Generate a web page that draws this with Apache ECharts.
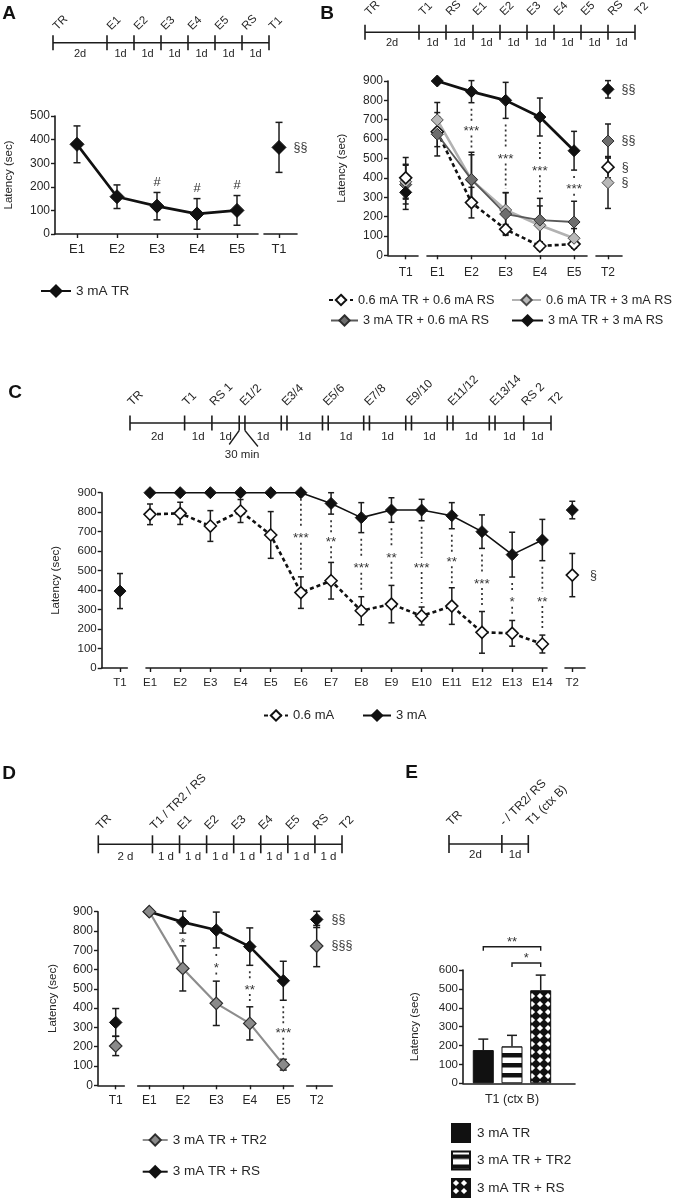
<!DOCTYPE html>
<html>
<head>
<meta charset="utf-8">
<script src="https://cdn.jsdelivr.net/npm/echarts@6.0.0/dist/echarts.min.js"></script>
<style>
html,body{margin:0;padding:0;background:#ffffff;}
#chart{width:674px;height:1200px;}
</style>
</head>
<body>
<div id="chart"></div>
<script>
// ======================= DATA =======================
// ---- Panel A ----
const aCats = ['E1','E2','E3','E4','E5'];
const aName = '3 mA TR';
const aMean = [380, 158, 118, 85, 100];
const aSem  = [78, 50, 58, 65, 63];
const aMarks = ['', '', '#', '#', '#'];
const aTCats = ['T1'];
const aT1Mean = [367];
const aT1Sem = [106];
const aT1Marks = ['§§'];
const aTlLabels = ['TR','E1','E2','E3','E4','E5','RS','T1'];
const aTlDays = [0,2,3,4,5,6,7,8];
const aTlDur = ['2d','1d','1d','1d','1d','1d','1d'];

// ---- Panel B ----
const bCats = ['E1','E2','E3','E4','E5'];
const bT1Cats = ['T1'];
const bT2Cats = ['T2'];
const bNames = ['0.6 mA TR + 0.6 mA RS','0.6 mA TR + 3 mA RS','3 mA TR + 0.6 mA RS','3 mA TR + 3 mA RS'];
const bMean = [
  [638, 272, 134, 48, 58],
  [699, 389, 234, 155, 88],
  [625, 392, 213, 182, 172],
  [900, 845, 800, 714, 540]
];
const bSem = [
  [77, 79, 25, 20, 20],
  [90, 130, 90, 100, 50],
  [112, 140, 110, 112, 107],
  [0, 57, 93, 98, 100]
];
const bT1Mean = [400, 380, 365, 325];
const bT1Sem  = [105, 90, 100, 88];
const bT2Mean = [455, 375, 590, 857];
const bT2Sem  = [55, 133, 88, 45];
const bT2Marks = ['§','§','§§','§§'];
const bMarks = ['', '***', '***', '***', '***'];
const bTlLabels = ['TR','T1','RS','E1','E2','E3','E4','E5','RS','T2'];
const bTlDays = [0,2,3,4,5,6,7,8,9,10];
const bTlDur = ['2d','1d','1d','1d','1d','1d','1d','1d','1d'];

// ---- Panel C ----
const cCats = ['E1','E2','E3','E4','E5','E6','E7','E8','E9','E10','E11','E12','E13','E14'];
const cT1Cats = ['T1'];
const cT2Cats = ['T2'];
const cNames = ['0.6 mA','3 mA'];
const cLow  = [789, 794, 729, 806, 683, 387, 448, 294, 328, 267, 318, 183, 178, 123];
const cLowSem = [53, 57, 79, 59, 120, 81, 94, 72, 96, 46, 94, 107, 66, 46];
const cHigh = [900, 900, 900, 900, 900, 900, 845, 772, 811, 811, 782, 700, 582, 657];
const cHighSem = [0, 0, 0, 0, 0, 0, 55, 77, 63, 55, 67, 86, 115, 106];
const cMarks = ['', '', '', '', '', '***', '**', '***', '**', '***', '**', '***', '*', '**'];
const cT1High = [395];
const cT1HighSem = [90];
const cT2Low = [477];
const cT2LowSem = [111];
const cT2LowMarks = ['§'];
const cT2High = [811];
const cT2HighSem = [45];
const cTlLabels = ['TR','T1','RS 1','E1/2','E3/4','E5/6','E7/8','E9/10','E11/12','E13/14','RS 2','T2'];
const cTlDays = [0, 2, 3, 4, 5.54, 7.05, 8.56, 10.1, 11.62, 13.16, 14.42, 15.42];
const cTlPaired = [0, 0, 0, 1, 1, 1, 1, 1, 1, 1, 0, 0];
const cTlNotes = ['', '', '', '30 min', '', '', '', '', '', '', '', ''];
const cTlDur = ['2d','1d','1d','1d','1d','1d','1d','1d','1d','1d','1d'];

// ---- Panel D ----
const dCats = ['E1','E2','E3','E4','E5'];
const dT1Cats = ['T1'];
const dT2Cats = ['T2'];
const dNames = ['3 mA TR + TR2','3 mA TR + RS'];
const dTR2 = [900, 606, 425, 321, 107];
const dTR2Sem = [0, 117, 115, 86, 28];
const dRS = [900, 846, 805, 719, 542];
const dRSSem = [0, 57, 93, 97, 101];
const dMarks = ['', '*', '*', '**', '***'];
const dT1Mean = [204, 326];
const dT1Sem = [50, 72];
const dT2Mean = [722, 860];
const dT2Sem = [107, 42];
const dT2Marks = ['§§§', '§§'];
const dTlLabels = ['TR','T1 / TR2 / RS','E1','E2','E3','E4','E5','RS','T2'];
const dTlDays = [0,2,3,4,5,6,7,8,9];
const dTlDur = ['2 d','1 d','1 d','1 d','1 d','1 d','1 d','1 d'];

// ---- Panel E ----
const eGroup = ['T1 (ctx B)'];
const eNames = ['3 mA TR','3 mA TR + TR2','3 mA TR + RS'];
const eMean = [176, 196, 493];
const eSem = [58, 58, 80];
const eBracketFrom = [0, 1];
const eBracketTo = [2, 2];
const eBracketLevel = [723, 637];
const eBracketMarks = ['**', '*'];
const eTlLabels = ['TR','- / TR2/ RS','T1 (ctx B)'];
const eTlDays = [0, 2, 3];
const eTlDur = ['2d','1d'];

// ======================= BUILD =======================
const FONT = '"Liberation Sans", Arial, Helvetica, sans-serif';
const INK = '#1c1c1c';
const TXT = '#262626';
const PAIR_GAP = 0.21;
const grid = [], xAxis = [], yAxis = [], series = [], legend = [], graphic = [];
const idx = (arr) => arr.map((_, i) => i + 1);

function addGrid(left, top, width, height) {
  grid.push({left, top, width, height, containLabel: false, outerBoundsMode: 'none'});
  return grid.length - 1;
}
function addCatX(gi, cats, min, max, fs, margin) {
  const vals = idx(cats);
  xAxis.push({
    type: 'value', gridIndex: gi, min, max,
    axisLine: {show: true, onZero: false, lineStyle: {color: INK, width: 1.6}},
    axisTick: {show: true, customValues: vals, length: 4, lineStyle: {color: INK, width: 1.4}},
    axisLabel: {show: true, customValues: vals, formatter: (v) => cats[Math.round(v) - 1] || '',
      fontSize: fs, color: TXT, fontFamily: FONT, margin},
    splitLine: {show: false}
  });
  return xAxis.length - 1;
}
function addY(gi, max, show, name, nameGap, fs) {
  yAxis.push({
    type: 'value', gridIndex: gi, min: 0, max, interval: 100, show,
    axisLine: {show: true, onZero: false, lineStyle: {color: INK, width: 1.6}},
    axisTick: {show: true, length: 4, lineStyle: {color: INK, width: 1.4}},
    axisLabel: {fontSize: fs, color: TXT, fontFamily: FONT, margin: 5},
    splitLine: {show: false},
    name: name || '', nameLocation: 'middle', nameGap: nameGap || 30,
    nameTextStyle: {fontSize: 11.5, color: TXT, fontFamily: FONT}
  });
  return yAxis.length - 1;
}
function addErr(xi, yi, xs, means, sems, opt) {
  opt = opt || {};
  const cap = opt.cap || 3.5;
  const data = means.map((m, i) => [xs[i], m, sems[i], i]);
  series.push({
    type: 'custom', xAxisIndex: xi, yAxisIndex: yi, z: 2, clip: false, silent: true, animation: false,
    data, encode: {x: 0, y: 1},
    renderItem(params, api) {
      const x = api.value(0), m = api.value(1), e = api.value(2), i = api.value(3);
      const ch = [];
      const st = {stroke: INK, lineWidth: 1.5};
      const t = api.coord([x, m + e]);
      if (e > 0) {
        const b = api.coord([x, opt.upOnly ? m : m - e]);
        ch.push({type: 'line', shape: {x1: t[0], y1: t[1], x2: b[0], y2: b[1]}, style: st});
        ch.push({type: 'line', shape: {x1: t[0] - cap, y1: t[1], x2: t[0] + cap, y2: t[1]}, style: st});
        if (!opt.upOnly) ch.push({type: 'line', shape: {x1: b[0] - cap, y1: b[1], x2: b[0] + cap, y2: b[1]}, style: st});
      }
      if (opt.marks && opt.marks[i]) {
        ch.push({type: 'text', x: t[0], y: t[1] - 4, style: {text: opt.marks[i], fill: '#333',
          font: `13px ${FONT}`, align: 'center', verticalAlign: 'bottom', textAlign: 'center', textVerticalAlign: 'bottom'}});
      }
      return {type: 'group', children: ch};
    }
  });
}
function addLine(name, xi, yi, vals, s) {
  series.push({
    type: 'line', name, xAxisIndex: xi, yAxisIndex: yi, z: 3,
    data: vals.map((v, i) => [i + 1, v]),
    symbol: 'diamond', symbolSize: s.size, showSymbol: true, clip: false, animation: false,
    lineStyle: {color: s.line, width: s.lw, type: s.dash || 'solid'},
    itemStyle: {color: s.fill, borderColor: s.border, borderWidth: s.bw},
    emphasis: {disabled: true}
  });
}
function addPoint(xi, yi, value, mark, s, dist) {
  series.push({
    type: 'scatter', xAxisIndex: xi, yAxisIndex: yi, z: 3, clip: false, animation: false,
    symbol: 'diamond', symbolSize: s.size,
    itemStyle: {color: s.fill, borderColor: s.border, borderWidth: s.bw, opacity: 1},
    data: [{value: [1, value], label: {show: !!mark, formatter: mark || '', position: 'right', distance: dist || 8,
      color: '#3a3a3a', fontSize: 12.5, fontFamily: FONT}}],
    emphasis: {disabled: true}
  });
}
function addSig(xi, yi, hi, hiSem, lo, loSem, marks) {
  const data = [];
  marks.forEach((mk, i) => { if (mk) data.push([i + 1, hi[i] - hiSem[i], lo[i] + loSem[i], i]); });
  series.push({
    type: 'custom', xAxisIndex: xi, yAxisIndex: yi, z: 1, clip: false, silent: true, animation: false,
    data, encode: {x: 0, y: 1},
    renderItem(params, api) {
      const x = api.value(0), i = api.value(3);
      const a = api.coord([x, api.value(1)]), b = api.coord([x, api.value(2)]);
      const y1 = a[1] + 6, y2 = b[1] - 4, mid = (y1 + y2) / 2, h = 7;
      const st = {stroke: '#333', lineWidth: 1.7, lineDash: [2, 3]};
      const ch = [];
      if (mid - h > y1) ch.push({type: 'line', shape: {x1: a[0], y1: y1, x2: a[0], y2: mid - h}, style: st});
      if (y2 > mid + h) ch.push({type: 'line', shape: {x1: a[0], y1: mid + h, x2: a[0], y2: y2}, style: st});
      ch.push({type: 'text', x: a[0], y: mid + 3, style: {text: marks[i], fill: '#333', font: `13.5px ${FONT}`,
        align: 'center', verticalAlign: 'middle', textAlign: 'center', textVerticalAlign: 'middle'}});
      return {type: 'group', children: ch};
    }
  });
}
function addTimeline(t) {
  const lastSpanEnd = t.days[t.days.length - 1] + ((t.paired && t.paired[t.days.length - 1]) ? PAIR_GAP : 0);
  const gi = addGrid(t.left, t.lineY - 10, t.width, 20);
  xAxis.push({type: 'value', gridIndex: gi, min: 0, max: lastSpanEnd, show: false});
  yAxis.push({type: 'value', gridIndex: gi, min: 0, max: 1, show: false});
  const xi = xAxis.length - 1, yi = yAxis.length - 1;
  series.push({
    type: 'custom', xAxisIndex: xi, yAxisIndex: yi, clip: false, silent: true, animation: false, z: 2,
    data: [[0, 0.5]], encode: {x: 0, y: 1},
    renderItem(params, api) {
      const P = (d) => api.coord([d, 0.5]);
      const st = {stroke: INK, lineWidth: 1.6};
      const ch = [];
      const spans = t.days.map((d, i) => (t.paired && t.paired[i]) ? [d, d + PAIR_GAP] : [d, d]);
      const p0 = P(spans[0][0]), p1 = P(spans[spans.length - 1][1]);
      ch.push({type: 'line', shape: {x1: p0[0], y1: p0[1], x2: p1[0], y2: p1[1]}, style: st});
      spans.forEach((s, i) => {
        const ticks = s[0] === s[1] ? [s[0]] : s;
        ticks.forEach((d) => {
          const q = P(d);
          ch.push({type: 'line', shape: {x1: q[0], y1: q[1] - t.up, x2: q[0], y2: q[1] + t.down}, style: st});
        });
        const c = P((s[0] + s[1]) / 2);
        ch.push({type: 'text', x: c[0] + t.lx, y: c[1] - t.up - t.ly, rotation: Math.PI / 4,
          style: {text: t.labels[i], fill: TXT, font: `${t.fs}px ${FONT}`, align: 'left', verticalAlign: 'middle',
            textAlign: 'left', textVerticalAlign: 'middle'}});
        if (t.notes && t.notes[i]) {
          const a = P(s[0]), b = P(s[1]);
          const ls = {stroke: INK, lineWidth: 1.3};
          ch.push({type: 'line', shape: {x1: a[0], y1: a[1] + t.down, x2: a[0] - 10, y2: a[1] + t.down + 14}, style: ls});
          ch.push({type: 'line', shape: {x1: b[0], y1: b[1] + t.down, x2: b[0] + 13, y2: b[1] + t.down + 16}, style: ls});
          ch.push({type: 'text', x: c[0], y: c[1] + 32, style: {text: t.notes[i], fill: TXT, font: `${t.dfs || t.fs}px ${FONT}`,
            align: 'center', verticalAlign: 'middle', textAlign: 'center', textVerticalAlign: 'middle'}});
        }
      });
      for (let i = 0; i < spans.length - 1; i++) {
        const m = P((spans[i][1] + spans[i + 1][0]) / 2);
        ch.push({type: 'text', x: m[0], y: m[1] + t.durDrop, style: {text: t.durs[i], fill: TXT, font: `${t.dfs || t.fs}px ${FONT}`,
          align: 'center', verticalAlign: 'middle', textAlign: 'center', textVerticalAlign: 'middle'}});
      }
      return {type: 'group', children: ch};
    }
  });
}
const legendFmt = (n) => n.split('|')[1];
function addLegend(names, left, top, extra) {
  legend.push(Object.assign({
    data: names, left, top, padding: 0, itemWidth: 28, itemHeight: 13, itemGap: 10, selectedMode: false,
    formatter: legendFmt, textStyle: {fontSize: 13, color: TXT, fontFamily: FONT}
  }, extra || {}));
}
function letter(txt, x, y) {
  graphic.push({type: 'text', x, y, style: {text: txt, font: `bold 19px ${FONT}`, fill: '#111',
    textAlign: 'center', textVerticalAlign: 'middle', align: 'center', verticalAlign: 'middle'}});
}

// styles
const S_BLACK = (size, lw) => ({size, fill: '#111', border: '#111', bw: 1, line: '#111', lw});
const S_WHITE = (size) => ({size, fill: '#ffffff', border: '#111', bw: 1.6, line: '#111', lw: 2.6, dash: [4, 3]});
const S_LGRAY = {size: 12, fill: '#b9b9b9', border: '#4a4a4a', bw: 1, line: '#b2b2b2', lw: 2.6};
const S_DGRAY = {size: 12, fill: '#6d6d6d', border: '#2e2e2e', bw: 1, line: '#595959', lw: 1.8};
const S_MGRAY = {size: 12.5, fill: '#8a8a8a', border: '#2e2e2e', bw: 1.2, line: '#8d8d8d', lw: 2.2};

// ---------------- Panel A ----------------
letter('A', 9, 14);
addTimeline({labels: aTlLabels, days: aTlDays, durs: aTlDur, left: 53, width: 216, lineY: 42.7,
  up: 7.5, down: 7.5, lx: 2, ly: 7, durDrop: 11.3, fs: 11.5, dfs: 11});
{
  const g1 = addGrid(55, 116, 203, 118);
  const x1 = addCatX(g1, aCats, 0.45, 5.525, 13, 9);
  const y1 = addY(g1, 500, true, 'Latency (sec)', 40, 12);
  const g2 = addGrid(264, 116, 33, 118);
  const x2 = addCatX(g2, aTCats, 0.545, 1.545, 13, 9);
  const y2 = addY(g2, 500, false);
  addErr(x1, y1, idx(aCats), aMean, aSem, {cap: 3.5, marks: aMarks});
  addErr(x2, y2, [1], aT1Mean, aT1Sem, {cap: 3.5});
  addLine('A|' + aName, x1, y1, aMean, S_BLACK(14, 2.7));
  addPoint(x2, y2, aT1Mean[0], aT1Marks[0], S_BLACK(14, 2.7), 7);
  addLegend(['A|' + aName], 40, 284, {itemWidth: 30, itemHeight: 14, textStyle: {fontSize: 13.5, color: TXT, fontFamily: FONT}});
}

// ---------------- Panel B ----------------
letter('B', 327, 14);
addTimeline({labels: bTlLabels, days: bTlDays, durs: bTlDur, left: 365, width: 270, lineY: 32.3,
  up: 7.5, down: 7.5, lx: 2, ly: 11, durDrop: 11, fs: 11.5, dfs: 11});
{
  const gT1 = addGrid(388, 81, 30, 174.3);
  const xT1 = addCatX(gT1, bT1Cats, 0.41, 1.41, 12, 11);
  const yT1 = addY(gT1, 900, true, 'Latency (sec)', 40.5, 12);
  const gE = addGrid(427, 81, 160, 174.3);
  const xE = addCatX(gE, bCats, 0.7, 5.378, 12, 11);
  const yE = addY(gE, 900, false);
  const gT2 = addGrid(596, 81, 26, 174.3);
  const xT2 = addCatX(gT2, bT2Cats, 0.538, 1.538, 12, 11);
  const yT2 = addY(gT2, 900, false);
  const styles = [S_WHITE(12), S_LGRAY, S_DGRAY, S_BLACK(12, 2.7)];
  addSig(xE, yE, bMean[3], bSem[3], bMean[2], bSem[2], bMarks);
  for (let s = 0; s < 4; s++) {
    addErr(xE, yE, idx(bCats), bMean[s], bSem[s], {cap: 3});
    addErr(xT1, yT1, [1], [bT1Mean[s]], [bT1Sem[s]], {cap: 3});
    addErr(xT2, yT2, [1], [bT2Mean[s]], [bT2Sem[s]], {cap: 3});
  }
  for (let s = 0; s < 4; s++) addLine('B|' + bNames[s], xE, yE, bMean[s], styles[s]);
  [2, 1, 3, 0].forEach((s) => addPoint(xT1, yT1, bT1Mean[s], '', styles[s]));
  [2, 1, 3, 0].forEach((s) => addPoint(xT2, yT2, bT2Mean[s], bT2Marks[s], styles[s], 7));
  const bTS = {fontSize: 12.7, color: TXT, fontFamily: FONT};
  addLegend(['B|' + bNames[0]], 328, 293.5, {itemWidth: 24, textStyle: bTS});
  addLegend(['B|' + bNames[1]], 511, 293.5, {itemWidth: 29, textStyle: bTS});
  addLegend(['B|' + bNames[2]], 330, 314, {itemWidth: 27, textStyle: bTS});
  addLegend(['B|' + bNames[3]], 511, 314, {itemWidth: 31, textStyle: bTS});
}

// ---------------- Panel C ----------------
letter('C', 15, 393);
addTimeline({labels: cTlLabels, days: cTlDays, paired: cTlPaired, notes: cTlNotes, durs: cTlDur,
  left: 130, width: 421, lineY: 423, up: 7.5, down: 7.5, lx: 0, ly: 11.5, durDrop: 13.7, fs: 12, dfs: 11.5});
{
  const gT1 = addGrid(101.7, 492.7, 25.6, 175.3);
  const xT1 = addCatX(gT1, cT1Cats, 0.285, 1.285, 11.5, 9);
  const yT1 = addY(gT1, 900, true, 'Latency (sec)', 40, 11.5);
  const gE = addGrid(146, 492.7, 401, 175.3);
  const xE = addCatX(gE, cCats, 0.8675, 14.154, 11.5, 9);
  const yE = addY(gE, 900, false);
  const gT2 = addGrid(565, 492.7, 20, 175.3);
  const xT2 = addCatX(gT2, cT2Cats, 0.635, 1.635, 11.5, 9);
  const yT2 = addY(gT2, 900, false);
  addSig(xE, yE, cHigh, cHighSem, cLow, cLowSem, cMarks);
  addErr(xE, yE, idx(cCats), cLow, cLowSem, {cap: 3});
  addErr(xE, yE, idx(cCats), cHigh, cHighSem, {cap: 3});
  addErr(xT1, yT1, [1], cT1High, cT1HighSem, {cap: 3});
  addErr(xT2, yT2, [1], cT2Low, cT2LowSem, {cap: 3});
  addErr(xT2, yT2, [1], cT2High, cT2HighSem, {cap: 3});
  addLine('C|' + cNames[0], xE, yE, cLow, S_WHITE(12));
  addLine('C|' + cNames[1], xE, yE, cHigh, S_BLACK(12, 1.6));
  addPoint(xT1, yT1, cT1High[0], '', S_BLACK(12, 1.6));
  addPoint(xT2, yT2, cT2Low[0], cT2LowMarks[0], S_WHITE(12), 11);
  addPoint(xT2, yT2, cT2High[0], '', S_BLACK(12, 1.6));
  addLegend(['C|' + cNames[0]], 263, 709, {itemWidth: 24});
  addLegend(['C|' + cNames[1]], 362, 709, {itemWidth: 28});
}

// ---------------- Panel D ----------------
letter('D', 9, 774);
addTimeline({labels: dTlLabels, days: dTlDays, durs: dTlDur, left: 98.3, width: 243.7, lineY: 844.3,
  up: 9, down: 9, lx: 0, ly: 7.5, durDrop: 12.4, fs: 12, dfs: 11.5});
{
  const gT1 = addGrid(98, 911.7, 26.3, 173.6);
  const xT1 = addCatX(gT1, dT1Cats, 0.327, 1.327, 12, 9);
  const yT1 = addY(gT1, 900, true, 'Latency (sec)', 39, 12);
  const gE = addGrid(137.7, 911.7, 155.6, 173.6);
  const xE = addCatX(gE, dCats, 0.654, 5.299, 12, 9);
  const yE = addY(gE, 900, false);
  const gT2 = addGrid(306.7, 911.7, 25.6, 173.6);
  const xT2 = addCatX(gT2, dT2Cats, 0.61, 1.61, 12, 9);
  const yT2 = addY(gT2, 900, false);
  addSig(xE, yE, dRS, dRSSem, dTR2, dTR2Sem, dMarks);
  addErr(xE, yE, idx(dCats), dTR2, dTR2Sem, {cap: 3.5});
  addErr(xE, yE, idx(dCats), dRS, dRSSem, {cap: 3.5});
  addErr(xT1, yT1, [1, 1], dT1Mean, dT1Sem, {cap: 3.5});
  addErr(xT2, yT2, [1, 1], dT2Mean, dT2Sem, {cap: 3.5});
  addLine('D|' + dNames[1], xE, yE, dRS, S_BLACK(12.5, 2.7));
  addLine('D|' + dNames[0], xE, yE, dTR2, S_MGRAY);
  addPoint(xT1, yT1, dT1Mean[0], '', S_MGRAY);
  addPoint(xT1, yT1, dT1Mean[1], '', S_BLACK(12.5, 2.7));
  addPoint(xT2, yT2, dT2Mean[0], dT2Marks[0], S_MGRAY, 8);
  addPoint(xT2, yT2, dT2Mean[1], dT2Marks[1], S_BLACK(12.5, 2.7), 8);
  addLegend(['D|' + dNames[0], 'D|' + dNames[1]], 141.7, 1133, {orient: 'vertical', itemWidth: 25, itemHeight: 14, itemGap: 17.7,
    textStyle: {fontSize: 13.5, color: TXT, fontFamily: FONT}});
}

// ---------------- Panel E ----------------
letter('E', 411.5, 773);
addTimeline({labels: eTlLabels, days: eTlDays, durs: eTlDur, left: 449, width: 79.3, lineY: 844,
  up: 9, down: 9, lx: 0, ly: 11, durDrop: 10.7, fs: 12, dfs: 11.5});
function stripePattern() {
  const c = document.createElement('canvas'); c.width = 10; c.height = 10;
  const g = c.getContext('2d');
  g.fillStyle = '#ffffff'; g.fillRect(0, 0, 10, 10);
  g.fillStyle = '#111111'; g.fillRect(0, 3, 10, 4.5);
  return c;
}
function diamondPattern() {
  const s = 8, k = 0.9;
  const c = document.createElement('canvas'); c.width = s; c.height = s;
  const g = c.getContext('2d');
  g.fillStyle = '#111111'; g.fillRect(0, 0, s, s);
  g.fillStyle = '#ffffff';
  g.beginPath(); g.moveTo(s / 2, k); g.lineTo(s - k, s / 2); g.lineTo(s / 2, s - k); g.lineTo(k, s / 2); g.closePath(); g.fill();
  return c;
}
{
  const gi = addGrid(463, 970, 112, 113.3);
  const center = (1 + eNames.length) / 2;
  xAxis.push({
    type: 'value', gridIndex: gi, min: 0.293, max: 4.195,
    axisLine: {show: true, onZero: false, lineStyle: {color: INK, width: 1.6}},
    axisTick: {show: false},
    axisLabel: {show: true, customValues: [center], formatter: () => eGroup[0], fontSize: 12.5, color: TXT, fontFamily: FONT, margin: 10},
    splitLine: {show: false}
  });
  const xi = xAxis.length - 1;
  yAxis.push({
    type: 'value', gridIndex: gi, min: 0, max: 600, interval: 100,
    axisLine: {show: true, onZero: false, lineStyle: {color: INK, width: 1.6}},
    axisTick: {show: true, length: 4, lineStyle: {color: INK, width: 1.4}},
    axisLabel: {fontSize: 11.5, color: TXT, fontFamily: FONT, margin: 5},
    splitLine: {show: false},
    name: 'Latency (sec)', nameLocation: 'middle', nameGap: 42,
    nameTextStyle: {fontSize: 11.5, color: TXT, fontFamily: FONT}
  });
  const yi = yAxis.length - 1;
  const fills = ['#111111', {image: stripePattern(), repeat: 'repeat'}, {image: diamondPattern(), repeat: 'repeat'}];
  eNames.forEach((n, i) => {
    series.push({
      type: 'bar', name: 'E|' + n, xAxisIndex: xi, yAxisIndex: yi, z: 3, animation: false,
      data: [[i + 1, eMean[i]]], barWidth: 21, barGap: '-100%',
      itemStyle: {color: fills[i], borderColor: '#111', borderWidth: 1},
      emphasis: {disabled: true}
    });
  });
  addErr(xi, yi, idx(eNames), eMean, eSem, {cap: 5, upOnly: true});
  series.push({
    type: 'custom', xAxisIndex: xi, yAxisIndex: yi, z: 4, clip: false, silent: true, animation: false,
    data: eBracketFrom.map((f, i) => [f + 1, eBracketLevel[i], eBracketTo[i] + 1, i]), encode: {x: 0, y: 1},
    renderItem(params, api) {
      const i = api.value(3);
      const a = api.coord([api.value(0), api.value(1)]), b = api.coord([api.value(2), api.value(1)]);
      return {type: 'group', children: [
        {type: 'polyline', shape: {points: [[a[0], a[1] + 4], [a[0], a[1]], [b[0], b[1]], [b[0], b[1] + 4]]},
          style: {stroke: INK, lineWidth: 1.4, fill: null}},
        {type: 'text', x: (a[0] + b[0]) / 2, y: a[1] + 2, style: {text: eBracketMarks[i], fill: '#333', font: `13px ${FONT}`,
          align: 'center', verticalAlign: 'bottom', textAlign: 'center', textVerticalAlign: 'bottom'}}
      ]};
    }
  });
  addLegend(eNames.map((n) => 'E|' + n), 451, 1123, {orient: 'vertical', itemWidth: 18, itemHeight: 18, itemGap: 7.5, icon: 'rect',
    height: 75, textStyle: {fontSize: 13.5, color: TXT, fontFamily: FONT, padding: [0, 0, 0, 2]}});
}

const chart = echarts.init(document.getElementById('chart'), null, {renderer: 'canvas', width: 674, height: 1200});
chart.setOption({
  animation: false,
  backgroundColor: '#ffffff',
  textStyle: {fontFamily: FONT},
  grid, xAxis, yAxis, series, legend, graphic
});
</script>
</body>
</html>
